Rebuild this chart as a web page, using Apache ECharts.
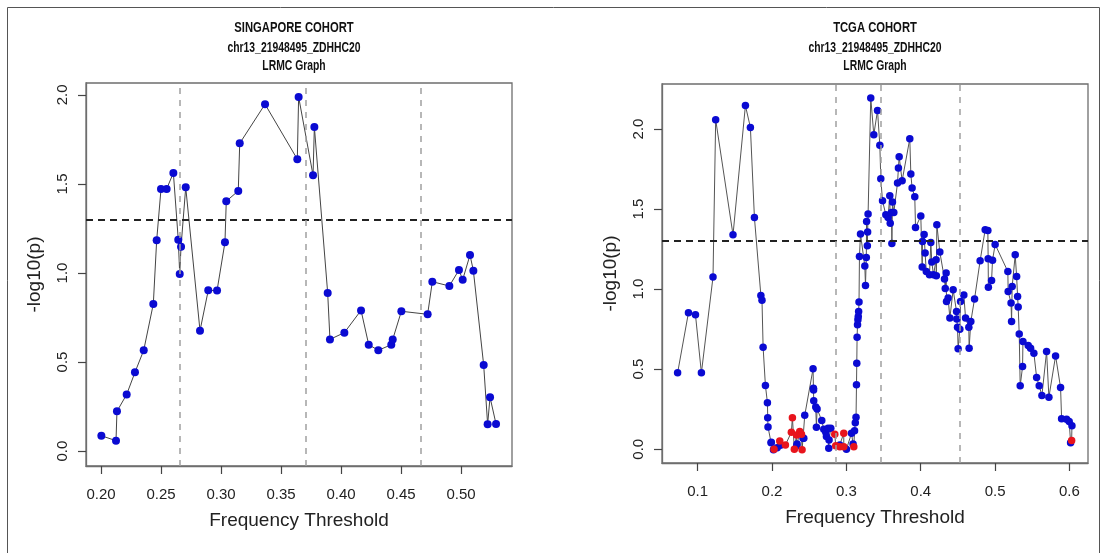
<!DOCTYPE html>
<html>
<head>
<meta charset="utf-8">
<script src="https://cdn.jsdelivr.net/npm/echarts@6/dist/echarts.min.js"></script>
<style>
html,body{margin:0;padding:0;background:#fff;}
#chart{width:1107px;height:553px;}
</style>
</head>
<body>
<div id="chart"></div>
<script>
// ---------- DATA ----------
// Singapore cohort: frequency threshold vs -log10(p)
const sgX = [0.2003,0.2125,0.2133,0.2214,0.2283,0.2356,0.2436,0.2464,0.2500,0.2547,0.2603,0.2644,0.2656,0.2667,0.2706,0.2825,0.2894,0.2967,0.3033,0.3044,0.3144,0.3156,0.3367,0.3636,0.3647,0.3767,0.3778,0.3889,0.3908,0.4028,0.4167,0.4231,0.4311,0.4419,0.4431,0.4503,0.4722,0.4761,0.4903,0.4983,0.5014,0.5075,0.5103,0.5189,0.5222,0.5242,0.5292];
const sgY = [0.086,0.058,0.223,0.318,0.442,0.566,0.826,1.184,1.472,1.472,1.562,1.187,0.994,1.148,1.481,0.676,0.903,0.901,1.172,1.403,1.461,1.728,1.948,1.639,1.989,1.549,1.820,0.888,0.627,0.665,0.790,0.597,0.566,0.597,0.627,0.785,0.768,0.951,0.927,1.017,0.962,1.101,1.013,0.483,0.150,0.302,0.152];
const sgCutoffs = [0.2653, 0.3708, 0.4667];

// TCGA cohort (blue points)
const tcgaBlueX = [0.073,0.0876,0.097,0.105,0.1206,0.1242,0.1475,0.1642,0.1709,0.1763,0.1850,0.1865,0.1880,0.1911,0.1938,0.1942,0.1946,0.1987,0.1990,0.2019,0.2069,0.2113,0.2332,0.2337,0.2417,0.2427,0.2440,0.2552,0.2557,0.2559,0.2561,0.2588,0.2597,0.2606,0.2669,0.2696,0.2723,0.2732,0.2754,0.2763,0.2767,0.2790,0.2911,0.3001,0.3069,0.3090,0.3110,0.3120,0.3130,0.3136,0.3140,0.3144,0.3150,0.3155,0.3160,0.3165,0.3170,0.3176,0.3190,0.3248,0.3257,0.3268,0.3272,0.3282,0.3286,0.3292,0.3328,0.3369,0.3419,0.3450,0.3463,0.3486,0.3531,0.3561,0.3584,0.3590,0.3607,0.3612,0.3620,0.3638,0.3688,0.3700,0.3710,0.3750,0.3853,0.3867,0.3884,0.3920,0.3930,0.4001,0.4020,0.4024,0.4046,0.4059,0.4075,0.4118,0.4136,0.4149,0.4172,0.4207,0.4210,0.4217,0.4257,0.4320,0.4330,0.4342,0.4347,0.4369,0.4392,0.4436,0.4482,0.4485,0.4495,0.4503,0.4526,0.4536,0.4580,0.4603,0.4647,0.4651,0.4674,0.4724,0.4799,0.4867,0.4903,0.4907,0.4910,0.4953,0.4966,0.5001,0.5172,0.5176,0.5215,0.5222,0.5230,0.5271,0.5290,0.5303,0.5311,0.5325,0.5338,0.5370,0.5375,0.5446,0.5478,0.5522,0.5559,0.5594,0.5630,0.5693,0.5724,0.5814,0.5881,0.5895,0.5962,0.5997,0.6016,0.6034];
const tcgaBlueY = [0.477,0.853,0.840,0.477,1.075,2.058,1.339,2.146,2.010,1.448,0.960,0.930,0.637,0.398,0.291,0.196,0.139,0.041,0.044,-0.004,0.010,0.025,0.021,0.033,0.069,0.069,0.212,0.502,0.381,0.370,0.302,0.264,0.137,0.252,0.179,0.125,0.106,0.079,0.131,0.006,0.058,0.131,0.027,0.000,0.100,0.033,0.116,0.165,0.200,0.402,0.537,0.700,0.777,0.808,0.829,0.860,0.920,1.204,1.344,1.144,1.023,1.198,1.423,1.271,1.356,1.469,2.194,1.964,2.116,1.898,1.689,1.552,1.464,1.448,1.583,1.412,1.479,1.285,1.544,1.479,1.663,1.756,1.827,1.677,1.939,1.719,1.631,1.577,1.385,1.456,1.138,1.298,1.341,1.225,1.110,1.089,1.291,1.169,1.089,1.183,1.083,1.402,1.231,1.063,1.004,1.100,0.923,0.944,0.819,0.996,0.860,0.813,0.762,0.627,0.750,0.923,0.964,0.819,0.762,0.631,0.798,0.939,1.177,1.371,1.366,1.189,1.012,1.054,1.181,1.279,1.110,0.985,0.914,0.798,1.016,1.214,1.078,0.954,0.888,0.719,0.396,0.516,0.673,0.648,0.631,0.600,0.448,0.396,0.335,0.610,0.325,0.583,0.385,0.191,0.188,0.173,0.041,0.146];
// TCGA cohort (red points)
const tcgaRedX = [0.2027,0.2104,0.2180,0.2260,0.2274,0.2300,0.2330,0.2373,0.2396,0.2404,0.2844,0.2857,0.2911,0.2965,0.2965,0.3100,0.6030];
const tcgaRedY = [0.000,0.052,0.027,0.106,0.197,0.000,0.089,0.110,0.094,-0.004,0.094,0.021,0.016,0.100,0.016,0.016,0.054];
const tcgaCutoffs = [0.2857, 0.3459, 0.4530];

const sigLine = 1.30103; // -log10(0.05)
const sgXTicks = [0.20,0.25,0.30,0.35,0.40,0.45,0.50];
const tcgaXTicks = [0.1,0.2,0.3,0.4,0.5,0.6];
const yTicksSg = [0.0,0.5,1.0,1.5,2.0];
const yTicksTcga = [0.0,0.5,1.0,1.5,2.0];

const titles = [
  ['SINGAPORE COHORT','chr13_21948495_ZDHHC20','LRMC Graph'],
  ['TCGA COHORT','chr13_21948495_ZDHHC20','LRMC Graph']
];

// ---------- CHART ----------
const zip = (xs, ys) => xs.map((x, i) => [x, ys[i]]);
const sgData = zip(sgX, sgY);
const blue = zip(tcgaBlueX, tcgaBlueY);
const red = zip(tcgaRedX, tcgaRedY);
const tcgaAll = blue.concat(red).sort((a, b) => a[0] - b[0]);

const FONT = "'Liberation Sans', Arial, sans-serif";
const BLUE = '#0a0ad2';
const RED = '#e8141c';
const BOX = '#6e6e6e';

const ranges = {
  sg: { x: [0.1875, 0.5425], y: [-0.084, 2.067] },
  tcga: { x: [0.052, 0.625], y: [-0.086, 2.281] }
};

function xAxisCfg(gi, r, ticks, dec) {
  return {
    type: 'value', gridIndex: gi, min: r[0], max: r[1],
    splitLine: { show: false },
    axisLine: { show: true, onZero: false, lineStyle: { color: BOX, width: 1.3 } },
    axisTick: { show: true, length: 8, lineStyle: { color: '#444', width: 1.2 }, customValues: ticks },
    axisLabel: { customValues: ticks, formatter: v => v.toFixed(dec), color: '#222', fontSize: 15, fontFamily: FONT, margin: 21 },
    name: 'Frequency Threshold', nameLocation: 'middle', nameGap: 45,
    nameTextStyle: { fontSize: 19, color: '#222', fontFamily: FONT }
  };
}
function yAxisCfg(gi, r, ticks) {
  return {
    type: 'value', gridIndex: gi, min: r[0], max: r[1],
    splitLine: { show: false },
    axisLine: { show: true, onZero: false, lineStyle: { color: BOX, width: 1.3 } },
    axisTick: { show: true, length: 8, lineStyle: { color: '#444', width: 1.2 }, customValues: ticks },
    axisLabel: { customValues: ticks, formatter: v => v.toFixed(1), rotate: 90, color: '#222', fontSize: 15, fontFamily: FONT, margin: 16 },
    name: '-log10(p)', nameLocation: 'middle', nameGap: 42, nameRotate: 90,
    nameTextStyle: { fontSize: 19, color: '#222', fontFamily: FONT }
  };
}
function refLines(gi, cuts, r) {
  const d = [[{ coord: [r.x[0], sigLine] }, { coord: [r.x[1], sigLine], lineStyle: { color: '#222', type: [7, 5], width: 1.8 } }]];
  cuts.forEach(c => d.push([{ coord: [c, r.y[0]] }, { coord: [c, r.y[1]], lineStyle: { color: '#a0a0a0', type: [6, 6], width: 1.5 } }]));
  return {
    type: 'scatter', xAxisIndex: gi, yAxisIndex: gi, data: [], z: 1,
    markLine: { silent: true, symbol: 'none', label: { show: false }, animation: false, data: d }
  };
}

const graphics = [];
const centers = [294, 875];
titles.forEach((t, i) => {
  const ys = [28, 48, 66];
  t.forEach((s, j) => {
    graphics.push({
      type: 'text', x: centers[i], y: ys[j], scaleX: j === 0 ? 0.75 : 0.74,
      style: { text: s, textAlign: 'center', textVerticalAlign: 'middle',
        font: (j === 0 ? 'bold 15px ' : 'bold 14px ') + FONT, fill: '#111' }
    });
  });
});
graphics.push({ type: 'rect', shape: { x: 7.5, y: 7.5, width: 1092, height: 560 }, style: { fill: 'none', stroke: '#555', lineWidth: 1 }, silent: true });

const option = {
  animation: false,
  backgroundColor: '#fff',
  grid: [
    { left: 86, top: 83, width: 426, height: 383, show: true, borderColor: BOX, borderWidth: 1.3, backgroundColor: 'transparent' },
    { left: 662, top: 84, width: 426, height: 379, show: true, borderColor: BOX, borderWidth: 1.3, backgroundColor: 'transparent' }
  ],
  xAxis: [
    xAxisCfg(0, ranges.sg.x, sgXTicks, 2),
    xAxisCfg(1, ranges.tcga.x, tcgaXTicks, 1)
  ],
  yAxis: [
    yAxisCfg(0, ranges.sg.y, yTicksSg),
    yAxisCfg(1, ranges.tcga.y, yTicksTcga)
  ],
  graphic: graphics,
  series: [
    refLines(0, sgCutoffs, ranges.sg),
    refLines(1, tcgaCutoffs, ranges.tcga),
    {
      type: 'line', xAxisIndex: 0, yAxisIndex: 0, data: sgData,
      symbol: 'circle', symbolSize: 8, showSymbol: true,
      lineStyle: { color: '#444', width: 1 }, itemStyle: { color: BLUE, opacity: 1 }, z: 3
    },
    {
      type: 'line', xAxisIndex: 1, yAxisIndex: 1, data: tcgaAll,
      symbol: 'none', lineStyle: { color: '#555', width: 1 }, z: 2
    },
    {
      type: 'scatter', xAxisIndex: 1, yAxisIndex: 1, data: blue,
      symbol: 'circle', symbolSize: 7.5, itemStyle: { color: BLUE, opacity: 1 }, z: 3
    },
    {
      type: 'scatter', xAxisIndex: 1, yAxisIndex: 1, data: red,
      symbol: 'circle', symbolSize: 7.5, itemStyle: { color: RED, opacity: 1 }, z: 4
    }
  ]
};
const chart = echarts.init(document.getElementById('chart'), null, { renderer: 'canvas' });
chart.setOption(option);
</script>
</body>
</html>
